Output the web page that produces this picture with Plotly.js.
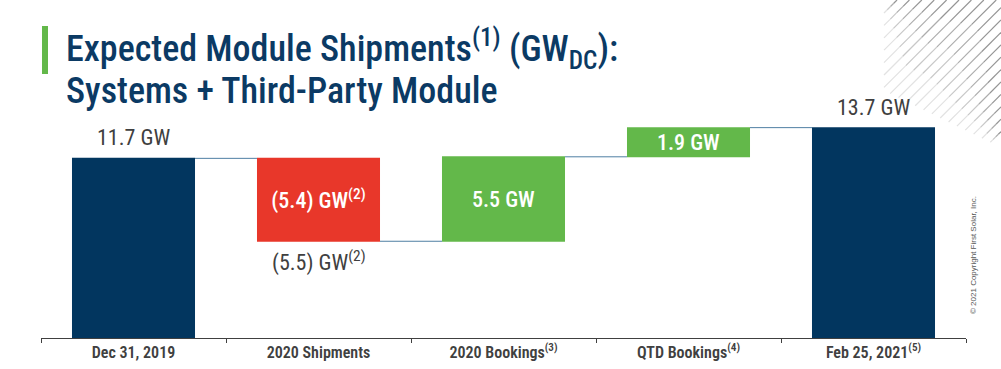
<!DOCTYPE html>
<html>
<head>
<meta charset="utf-8">
<script src="https://cdn.plot.ly/plotly-3.0.1.min.js"></script>
<style>
  html, body { margin: 0; padding: 0; background: #ffffff; }
  #chart { width: 1001px; height: 369px; }
</style>
</head>
<body>
<div id="chart"></div>
<script>
// ---- data ----
const categories = ["Dec 31, 2019", "2020 Shipments", "2020 Bookings", "QTD Bookings", "Feb 25, 2021"];
const tickNotes = ["", "", "(3)", "(4)", "(5)"];
const measures = ["absolute", "relative", "relative", "relative", "total"];
const values = [11.7, -5.4, 5.5, 1.9, 13.7];
const barLabels = ["11.7 GW", "(5.4) GW", "5.5 GW", "1.9 GW", "13.7 GW"];
const labelNotes = ["", "(2)", "", "", ""];
const extraLabel = "(5.5) GW";
const extraNote = "(2)";
const extraLabelIndex = 1;

// ---- geometry helpers (pixel -> paper) ----
const W = 1001, H = 369;
const M = {l: 41, r: 35, t: 100, b: 31};
const PW = W - M.l - M.r, PH = H - M.t - M.b;
const px = x => (x - M.l) / PW;
const py = y => (H - M.b - y) / PH;

const FONT = "Roboto Condensed, Open Sans Condensed, Liberation Sans, sans-serif";
const NAVY = "#02365f";
const RED = "#e8372a";
const GREEN = "#63b84a";
const GREY = "#404040";

// running totals (bar tops / bottoms)
const ends = [];
let run = 0;
measures.forEach((m, i) => {
  if (m === "absolute") run = values[i];
  else if (m === "relative") run += values[i];
  ends.push(run);
});

const insideText = barLabels.map((t, i) =>
  measures[i] === "relative" ? t + (labelNotes[i] ? "<sup>" + labelNotes[i] + "</sup>" : "") : "");
const textPos = measures.map(m => m === "relative" ? "inside" : "none");

const trace = {
  type: "waterfall",
  x: categories,
  y: values,
  measure: measures,
  width: 0.665,
  text: insideText,
  textposition: textPos,
  insidetextanchor: "middle",
  constraintext: "none",
  insidetextfont: {family: FONT, size: 22, color: "#ffffff", weight: 500},
  increasing: {marker: {color: GREEN}},
  decreasing: {marker: {color: RED}},
  totals: {marker: {color: NAVY}},
  connector: {mode: "between", line: {color: "#4f7fa3", width: 1}},
  hoverinfo: "skip",
  showlegend: false
};

const annotations = [];
// outside labels for totals
measures.forEach((m, i) => {
  if (m !== "relative") {
    annotations.push({
      x: categories[i], y: ends[i], xref: "x", yref: "y",
      text: barLabels[i], showarrow: false, yanchor: "bottom", yshift: 6,
      font: {family: FONT, size: 22, color: GREY, weight: 400}
    });
  }
});
// label under the shipments bar
annotations.push({
  x: categories[extraLabelIndex], y: ends[extraLabelIndex], xref: "x", yref: "y",
  text: extraLabel + "<sup>" + extraNote + "</sup>", showarrow: false, yanchor: "top", yshift: -4,
  font: {family: FONT, size: 22, color: GREY, weight: 400}
});
// title lines
annotations.push({
  x: px(64), y: py(63), xref: "paper", yref: "paper", xanchor: "left", yanchor: "bottom",
  text: "Expected Module Shipments<sup>(1)</sup> (GW<sub>DC</sub>):", showarrow: false,
  font: {family: FONT, size: 36, color: "#0b3a64", weight: 500}, yshift: -14
});
annotations.push({
  x: px(64), y: py(101), xref: "paper", yref: "paper", xanchor: "left", yanchor: "bottom",
  text: "Systems + Third-Party Module", showarrow: false,
  font: {family: FONT, size: 36, color: "#0b3a64", weight: 500}, yshift: -13
});
// copyright
annotations.push({
  x: px(973), y: py(255), xref: "paper", yref: "paper", xanchor: "center", yanchor: "middle",
  text: "© 2021 Copyright First Solar, Inc.", textangle: -90, showarrow: false,
  font: {family: "Liberation Sans, Arial, sans-serif", size: 8, color: "#555555"}
});

const shapes = [];
// green accent bar beside title
shapes.push({type: "rect", xref: "paper", yref: "paper", x0: px(42), x1: px(48), y0: py(74), y1: py(26),
  fillcolor: "#63b84a", line: {width: 0}, layer: "above"});
// decorative diagonal lines top right
for (let c = 897; c <= 1145; c += 12.4) {
  let sx, sy;
  if (c <= 975) { sx = 884; sy = c - 884; }
  else { sx = (c + 339) / 1.486; sy = c - sx; }
  let ex, ey;
  if (c <= W) { ex = c; ey = 0; } else { ex = W; ey = c - W; }
  const segs = 4;
  const cols = ["#e2e2e2", "#c8c8c8", "#adadad", "#959595"];
  for (let k = 0; k < segs; k++) {
    const x0 = sx + (ex - sx) * k / segs, y0 = sy + (ey - sy) * k / segs;
    const x1 = sx + (ex - sx) * (k + 1) / segs, y1 = sy + (ey - sy) * (k + 1) / segs;
    shapes.push({type: "line", xref: "paper", yref: "paper", x0: px(x0), y0: py(y0), x1: px(x1), y1: py(y1),
      line: {color: cols[k], width: 1.2}, layer: "below"});
  }
}

const layout = {
  width: W, height: H,
  margin: M,
  paper_bgcolor: "#ffffff", plot_bgcolor: "rgba(0,0,0,0)",
  showlegend: false,
  xaxis: {
    type: "category",
    tickvals: categories,
    ticktext: categories.map((c, i) => c + (tickNotes[i] ? "<sup>" + tickNotes[i] + "</sup>" : "")),
    tickson: "boundaries",
    ticks: "outside", ticklen: 4, tickcolor: GREY, tickwidth: 1,
    showline: true, linecolor: GREY, linewidth: 1,
    showgrid: false, zeroline: false,
    tickfont: {family: FONT, size: 16, color: GREY, weight: 600},
    fixedrange: true
  },
  yaxis: {range: [0, 15.5], visible: false, fixedrange: true},
  annotations: annotations,
  shapes: shapes
};

Plotly.newPlot("chart", [trace], layout, {displayModeBar: false, staticPlot: true});
</script>
</body>
</html>
